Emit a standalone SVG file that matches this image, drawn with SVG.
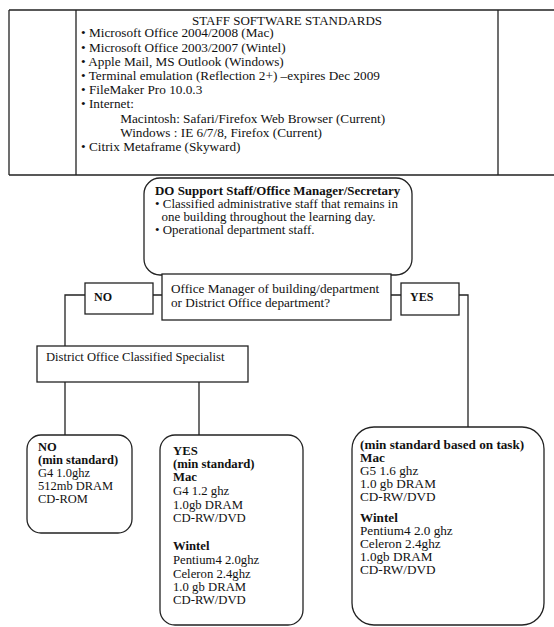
<svg xmlns="http://www.w3.org/2000/svg" width="554" height="627" viewBox="0 0 554 627">
<style>
text{font-family:"Liberation Serif","Times New Roman",serif;fill:#111}
.t{font-size:12.5px}
.m{font-size:12px}
.b{font-weight:bold}
.box{fill:#fff;stroke:#222;stroke-width:1.3}
.ln{fill:none;stroke:#222;stroke-width:1.3}
</style>
<rect width="554" height="627" fill="#fff"/>
<g id="software-standards">
<path class="ln" d="M9,10 H554 M9,10 V175 M9,175 H554 M76,10 V175 M498,10 V175"/>
<g transform="translate(287 0) scale(1.04 1)">
<text class="t" x="0" y="25" text-anchor="middle">STAFF SOFTWARE STANDARDS</text>
</g>
<g transform="translate(81 0) scale(1.06 1)">
<text class="t" x="0" y="37">• Microsoft Office 2004/2008 (Mac)</text>
<text class="t" x="0" y="52">• Microsoft Office 2003/2007 (Wintel)</text>
<text class="t" x="0" y="66">• Apple Mail, MS Outlook (Windows)</text>
<text class="t" x="0" y="80">• Terminal emulation (Reflection 2+) –expires Dec 2009</text>
<text class="t" x="0" y="94">• FileMaker Pro 10.0.3</text>
<text class="t" x="0" y="108">• Internet:</text>
<text class="t" x="37" y="123">Macintosh: Safari/Firefox Web Browser (Current)</text>
<text class="t" x="37" y="137">Windows : IE 6/7/8, Firefox (Current)</text>
<text class="t" x="0" y="151">• Citrix Metaframe (Skyward)</text>
</g>
</g>
<g id="connectors">
<path class="ln" d="M162,295 H153 M85,295 H65 V346 M391,295 H401 M459,295 H468 V427 M65,382 V435 M199,382 V435"/>
</g>
<g id="do-support">
<rect class="box" x="144" y="178" width="268" height="97" rx="16"/>
<g transform="translate(155 0) scale(1.08 1)">
<text class="m b" x="0" y="195">DO Support Staff/Office Manager/Secretary</text>
<text class="m" x="0" y="208">• Classified administrative staff that remains in</text>
<text class="m" x="6" y="221">one building throughout the learning day.</text>
<text class="m" x="0" y="234">• Operational department staff.</text>
</g>
</g>
<g id="question">
<rect class="box" x="162" y="274" width="229" height="46"/>
<g transform="translate(171 0) scale(1.1 1)">
<text class="m" x="0" y="293">Office Manager of building/department</text>
<text class="m" x="0" y="307">or District Office department?</text>
</g>
</g>
<g id="no-label">
<rect class="box" x="85" y="283" width="68" height="31"/>
<text class="m b" x="94" y="301">NO</text>
</g>
<g id="yes-label">
<rect class="box" x="401" y="283" width="58" height="32"/>
<text class="m b" x="410" y="301">YES</text>
</g>
<g id="district">
<rect class="box" x="37" y="346" width="211" height="36"/>
<g transform="translate(46 0) scale(1.05 1)">
<text class="m" x="0" y="361">District Office Classified Specialist</text>
</g>
</g>
<g id="no-leaf">
<rect class="box" x="27" y="435" width="105" height="98" rx="14"/>
<g transform="translate(38 0) scale(1.04 1)">
<text class="m b" x="0" y="451">NO</text>
<text class="m b" x="0" y="464">(min standard)</text>
<text class="m" x="0" y="477">G4 1.0ghz</text>
<text class="m" x="0" y="490">512mb DRAM</text>
<text class="m" x="0" y="503">CD-ROM</text>
</g>
</g>
<g id="yes-leaf">
<rect class="box" x="160" y="435" width="143" height="190" rx="15"/>
<g transform="translate(173 0) scale(1.06 1)">
<text class="m b" x="0" y="455">YES</text>
<text class="m b" x="0" y="468">(min standard)</text>
<text class="m b" x="0" y="481">Mac</text>
<text class="m" x="0" y="495">G4 1.2 ghz</text>
<text class="m" x="0" y="509">1.0gb DRAM</text>
<text class="m" x="0" y="522">CD-RW/DVD</text>
<text class="m b" x="0" y="550">Wintel</text>
<text class="m" x="0" y="564">Pentium4 2.0ghz</text>
<text class="m" x="0" y="578">Celeron 2.4ghz</text>
<text class="m" x="0" y="591">1.0 gb DRAM</text>
<text class="m" x="0" y="604">CD-RW/DVD</text>
</g>
</g>
<g id="task-leaf">
<rect class="box" x="352" y="427" width="192" height="198" rx="22"/>
<g transform="translate(360 0) scale(1.1 1)">
<text class="m b" x="0" y="449">(min standard based on task)</text>
<text class="m b" x="0" y="462">Mac</text>
<text class="m" x="0" y="475">G5 1.6 ghz</text>
<text class="m" x="0" y="488">1.0 gb DRAM</text>
<text class="m" x="0" y="501">CD-RW/DVD</text>
<text class="m b" x="0" y="522">Wintel</text>
<text class="m" x="0" y="535">Pentium4 2.0 ghz</text>
<text class="m" x="0" y="548">Celeron 2.4ghz</text>
<text class="m" x="0" y="561">1.0gb DRAM</text>
<text class="m" x="0" y="574">CD-RW/DVD</text>
</g>
</g>
</svg>
